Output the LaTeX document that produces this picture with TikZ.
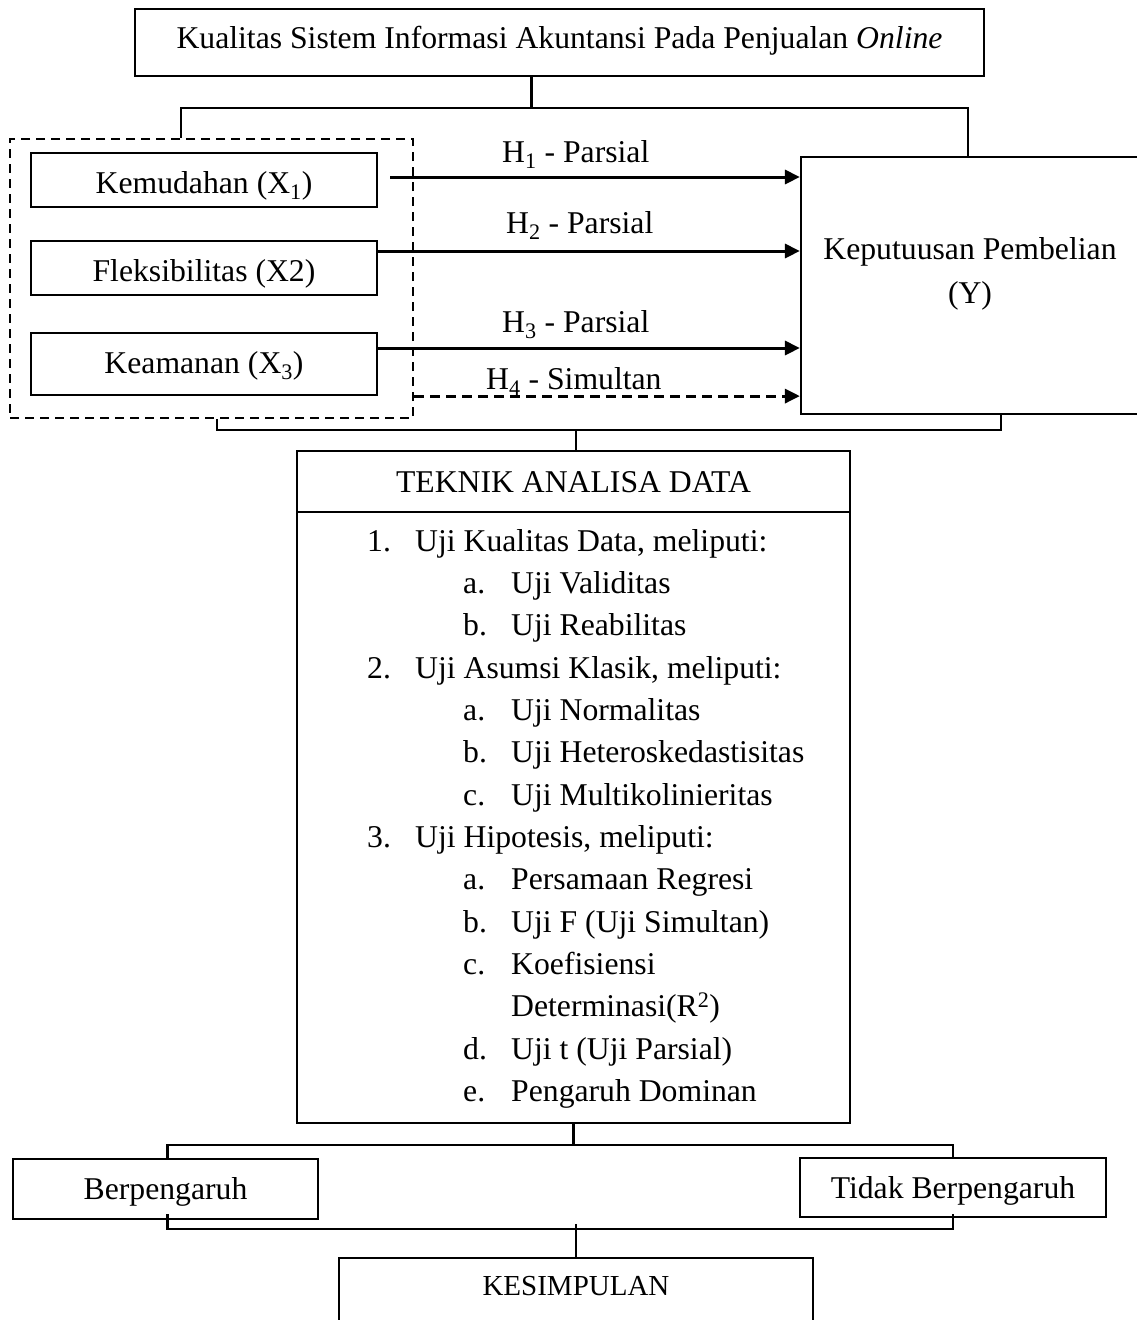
\documentclass[tikz,border=0pt]{standalone}
\usepackage{fontspec}
\setmainfont{Liberation Serif}
\usetikzlibrary{arrows.meta}
\tikzset{
  every node/.style={font=\fontsize{31.7pt}{38pt}\selectfont, inner sep=0pt},
  box/.style={draw, line width=2.2pt, inner sep=0pt, text depth=0pt},
  grp/.style={draw, line width=2.5pt, dash pattern=on 9pt off 6pt},
  link/.style={line width=2.2pt},
  hyp/.style={line width=3pt, -{Triangle[length=15pt,width=14pt]}},
  hypdash/.style={hyp, dash pattern=on 10pt off 6pt},
  lbl/.style={anchor=base west},
  ctxt/.style={anchor=base},
}
\begin{document}
\begin{tikzpicture}[x=1pt,y=-1pt]
\useasboundingbox (0,0) rectangle (1137,1320);
\clip (0,0) rectangle (1137,1320);

% title
\node[box, minimum width=849pt, minimum height=67pt, text height=11pt] (top) at (559.5,42.5)
  {Kualitas Sistem Informasi Akuntansi Pada Penjualan \textit{Online}};

% independent variables
\node[grp, minimum width=403pt, minimum height=279pt] (grp) at (211.5,278.5) {};
\node[box, minimum width=346pt, minimum height=54pt, text height=26pt] (kem) at (204,180)
  {Kemudahan (X\textsubscript{1})};
\node[box, minimum width=346pt, minimum height=54pt, text height=26pt] (flex) at (204,268)
  {Fleksibilitas (X2)};
\node[box, minimum width=346pt, minimum height=62pt, text height=18pt] (kea) at (204,364)
  {Keamanan (X\textsubscript{3})};

% dependent variable
\node[box, minimum width=339pt, minimum height=257pt] (Y) at (970.5,285.5) {};
\node[ctxt] (ytxt1) at (970,259) {Keputuusan Pembelian};
\node[ctxt] (ytxt2) at (970,303) {(Y)};

% hypotheses
\coordinate (h1s) at ([xshift=12pt,yshift=3pt]kem.east);
\coordinate (h2s) at ([yshift=17pt]flex.east);
\coordinate (h3s) at ([yshift=16pt]kea.east);
\draw[hyp] (h1s) -- (h1s -| Y.west);
\draw[hyp] (h2s) -- (h2s -| Y.west);
\draw[hyp] (h3s) -- (h3s -| Y.west);
\draw[hypdash] (grp.east |- kea.south) -- (Y.west |- kea.south);
\node[lbl] (l1) at (502,162) {H\textsubscript{1} - Parsial};
\node[lbl] (l2) at (506,233) {H\textsubscript{2} - Parsial};
\node[lbl] (l3) at (502,332) {H\textsubscript{3} - Parsial};
\node[lbl] (l4) at (486,389) {H\textsubscript{4} - Simultan};

% title to variables
\coordinate (j1) at ([xshift=-28pt,yshift=-31pt]top.south);
\draw[link] ([xshift=-28pt]top.south) -- (j1);
\draw[link] ([xshift=-30.5pt]grp.north) |- (j1) -| ([xshift=-2.5pt]Y.north);

% analysis techniques
\node[box, minimum width=553pt, minimum height=61pt, text height=21pt] (tekhead) at (573.5,481.5)
  {TEKNIK ANALISA DATA};
\node[box, minimum width=553pt, minimum height=611pt] (tekbody) at (573.5,817.5) {};

\node[lbl] (n0) at (367,551) {1.};   \node[lbl] (t0) at (415,551) {Uji Kualitas Data, meliputi:};
\node[lbl] (n1) at (463,593.4) {a.}; \node[lbl] (t1) at (511,593.4) {Uji Validitas};
\node[lbl] (n2) at (463,635.7) {b.}; \node[lbl] (t2) at (511,635.7) {Uji Reabilitas};
\node[lbl] (n3) at (367,678.1) {2.}; \node[lbl] (t3) at (415,678.1) {Uji Asumsi Klasik, meliputi:};
\node[lbl] (n4) at (463,720.4) {a.}; \node[lbl] (t4) at (511,720.4) {Uji Normalitas};
\node[lbl] (n5) at (463,762.8) {b.}; \node[lbl] (t5) at (511,762.8) {Uji Heteroskedastisitas};
\node[lbl] (n6) at (463,805.1) {c.}; \node[lbl] (t6) at (511,805.1) {Uji Multikolinieritas};
\node[lbl] (n7) at (367,847.5) {3.}; \node[lbl] (t7) at (415,847.5) {Uji Hipotesis, meliputi:};
\node[lbl] (n8) at (463,889.8) {a.}; \node[lbl] (t8) at (511,889.8) {Persamaan Regresi};
\node[lbl] (n9) at (463,932.2) {b.}; \node[lbl] (t9) at (511,932.2) {Uji F (Uji Simultan)};
\node[lbl] (n10) at (463,974.5) {c.}; \node[lbl] (t10) at (511,974.5) {Koefisiensi};
\node[lbl] (t11) at (511,1016.9) {Determinasi(R\textsuperscript{2})};
\node[lbl] (n12) at (463,1059.2) {d.}; \node[lbl] (t12) at (511,1059.2) {Uji t (Uji Parsial)};
\node[lbl] (n13) at (463,1101.6) {e.}; \node[lbl] (t13) at (511,1101.6) {Pengaruh Dominan};

% variables to analysis
\coordinate (j2) at ([xshift=2.5pt,yshift=20pt]tekhead.north);
\draw[link] ([xshift=5.5pt]grp.south) |- (j2) -| ([xshift=30.5pt]Y.south);
\draw[link] (j2) -- ([xshift=2.5pt]tekhead.north);

% outcomes
\node[box, minimum width=305pt, minimum height=60pt, text height=20pt] (berp) at (165.5,1189)
  {Berpengaruh};
\node[box, minimum width=306pt, minimum height=59pt, text height=21pt] (tidak) at (953,1187.5)
  {Tidak Berpengaruh};
\node[box, minimum width=474pt, minimum height=87pt, text height=0pt, text depth=13pt,
  font=\fontsize{29pt}{35pt}\selectfont] (kes) at (576,1301.5) {KESIMPULAN};

\coordinate (j3) at ([yshift=-21pt]tekbody.south);
\draw[link] (tekbody.south) -- (j3);
\draw[link] ([xshift=2pt]berp.north) |- (j3) -| (tidak.north);

\coordinate (j4) at ([yshift=28pt]kes.north);
\draw[link] ([xshift=2pt,yshift=6pt]berp.south) |- (j4) -| ([yshift=4pt]tidak.south);
\draw[link] ([yshift=5pt]j4) -- (kes.north);
\end{tikzpicture}
\end{document}
